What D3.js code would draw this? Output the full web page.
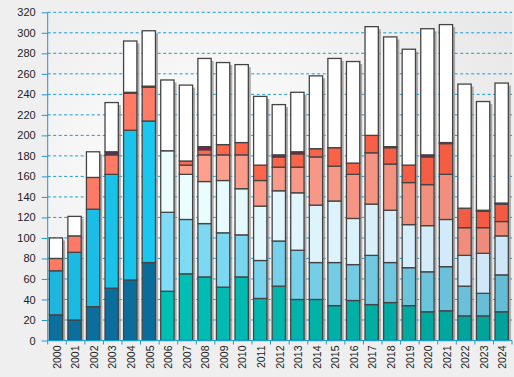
<!DOCTYPE html>
<html>
<head>
<meta charset="utf-8">
<script src="https://cdn.jsdelivr.net/npm/d3@7"></script>
<style>
  body { margin: 0; background: #efefef; }
  svg { display: block; font-family: "Liberation Sans", Arial, sans-serif; }
  .tick text { fill: #222; font-size: 11px; }
  .x-axis .tick text { font-size: 10.5px; }
</style>
</head>
<body>
<svg id="chart" width="514" height="377"></svg>
<script>
const years = ["2000","2001","2002","2003","2004","2005","2006","2007","2008","2009","2010","2011","2012",
  "2013","2014","2015","2016","2017","2018","2019","2020","2021","2022","2023","2024"];
const yTicks = [0, 20, 40, 60, 80, 100, 120, 140, 160, 180, 200, 220, 240, 260, 280, 300, 320];

// stacked segments, bottom to top
const s1 = [25,20,33,51,59,76,48,65,62,52,62,41,53,40,40,34,39,35,37,34,28,29,24,24,28];
const s2 = [43,66,95,111,146,138,77,53,52,53,41,37,44,48,36,42,35,48,39,37,39,43,29,22,36];
const s3 = [0,0,0,0,0,0,60,44,41,51,45,53,49,56,56,60,45,50,51,42,45,46,30,39,38];
const s4 = [12,16,31,19,36,33,0,9,26,25,33,25,23,25,47,34,43,50,45,41,40,44,27,25,14];
const s5 = [0,0,0,0,0,0,0,4,5,10,12,15,10,13,8,18,11,17,16,17,27,30,19,16,17];
const s6 = [0,0,0,3,1,1,0,0,3,0,0,0,2,2,0,0,0,0,1,0,2,1,0,1,1];
const s7 = [20,19,25,48,50,54,69,74,86,80,76,67,49,58,71,87,99,106,107,113,123,115,121,106,117];

const keys = ["s1","s2","s3","s4","s5","s6","s7"];
const series = { s1, s2, s3, s4, s5, s6, s7 };
const table = years.map((y, i) => {
  const row = { year: y };
  keys.forEach(k => row[k] = series[k][i]);
  return row;
});

// colours: first six years use a blue palette, later years drift from light to dark
const earlyColors = { s1: ["#0d6f9e", "#0a6c9b"], s2: ["#1cb6de", "#18c8f0"], s3: ["#e8ffff", "#e8ffff"],
  s4: ["#ff7963", "#ff7c66"], s5: ["#ff6a50", "#ff6a50"], s6: ["#8b1a4b", "#8b1a4b"], s7: ["#ffffff", "#ffffff"] };
const lateColors = { s1: ["#00c0b6", "#00a299"], s2: ["#80dcf6", "#66bcd4"], s3: ["#ecffff", "#cde6f8"],
  s4: ["#ffa38f", "#ee8a7a"], s5: ["#ff6a4e", "#f25a42"], s6: ["#8b1a4b", "#7a2040"], s7: ["#ffffff", "#ffffff"] };

function segColor(key, i) {
  if (i < 6) return d3.interpolateRgb(...earlyColors[key])(i / 5);
  return d3.interpolateRgb(...lateColors[key])((i - 6) / 18);
}

const svg = d3.select("#chart");
const margin = { top: 12.3, right: 2, bottom: 36.5, left: 47.7 };
const W = +svg.attr("width"), H = +svg.attr("height");

const x = d3.scaleBand().domain(years).range([margin.left, W - margin.right]);
const y = d3.scaleLinear().domain([0, 320]).range([H - margin.bottom, margin.top]);

// background
const defs = svg.append("defs");
const grad = defs.append("radialGradient").attr("id", "bg")
  .attr("cx", "35%").attr("cy", "45%").attr("r", "75%");
grad.append("stop").attr("offset", "0%").attr("stop-color", "#ffffff");
grad.append("stop").attr("offset", "100%").attr("stop-color", "#e8e8e8");

svg.append("rect").attr("width", W).attr("height", H).attr("fill", "#efefef");
svg.append("rect")
  .attr("x", margin.left).attr("y", margin.top)
  .attr("width", W - margin.right - margin.left)
  .attr("height", y(0) - margin.top)
  .attr("fill", "url(#bg)");

// grid
svg.append("g")
  .selectAll("line")
  .data(yTicks.filter(d => d > 0))
  .enter().append("line")
  .attr("x1", margin.left).attr("x2", W - margin.right)
  .attr("y1", d => y(d)).attr("y2", d => y(d))
  .attr("stroke", "#1a9ad6")
  .attr("stroke-width", 1)
  .attr("stroke-dasharray", "3,2.5");

const barW = 13.3;
const barX = d => x(d) + 1.6;

const stacked = d3.stack().keys(keys)(table);
const totals = table.map(r => d3.sum(keys, k => r[k]));

// shadows
svg.append("g")
  .selectAll("rect")
  .data(years)
  .enter().append("rect")
  .attr("x", d => barX(d) + 2.5)
  .attr("y", (d, i) => y(totals[i]) + 2.5)
  .attr("width", barW)
  .attr("height", (d, i) => y(0) - y(totals[i]) - 2.5)
  .attr("fill", "#8c8c8c")
  .attr("opacity", 0.7);

// bars
stacked.forEach(layer => {
  svg.append("g")
    .selectAll("rect")
    .data(layer.filter(d => d[1] - d[0] > 0))
    .enter().append("rect")
    .attr("x", d => barX(d.data.year))
    .attr("y", d => y(d[1]))
    .attr("width", barW)
    .attr("height", d => y(d[0]) - y(d[1]))
    .attr("fill", d => segColor(layer.key, years.indexOf(d.data.year)))
    .attr("stroke", "#444")
    .attr("stroke-width", 1.3);
});

// axes
const yAxis = svg.append("g")
  .attr("transform", `translate(${margin.left},0)`)
  .call(d3.axisLeft(y).tickValues(yTicks).tickSize(6).tickPadding(6));
yAxis.selectAll("line, path").attr("stroke", "#1a9ad6");
yAxis.select(".domain").attr("d", `M0,${y(320)}V${y(0)}`);

const xAxis = svg.append("g")
  .attr("class", "x-axis")
  .attr("transform", `translate(0,${y(0)})`)
  .call(d3.axisBottom(x).tickSize(0).tickPadding(4));
xAxis.select(".domain").attr("stroke", "#1a9ad6").attr("d", `M${margin.left},0H${W - margin.right}`);
xAxis.selectAll(".tick text")
  .attr("transform", "rotate(-90)")
  .attr("text-anchor", "end")
  .attr("x", -5)
  .attr("y", 0)
  .attr("dy", "0.35em");

// ticks at band edges
svg.append("g")
  .selectAll("line")
  .data(years.concat(["end"]))
  .enter().append("line")
  .attr("x1", d => d === "end" ? W - margin.right : x(d))
  .attr("x2", d => d === "end" ? W - margin.right : x(d))
  .attr("y1", y(0)).attr("y2", y(0) + 4)
  .attr("stroke", "#1a9ad6");
</script>
</body>
</html>
